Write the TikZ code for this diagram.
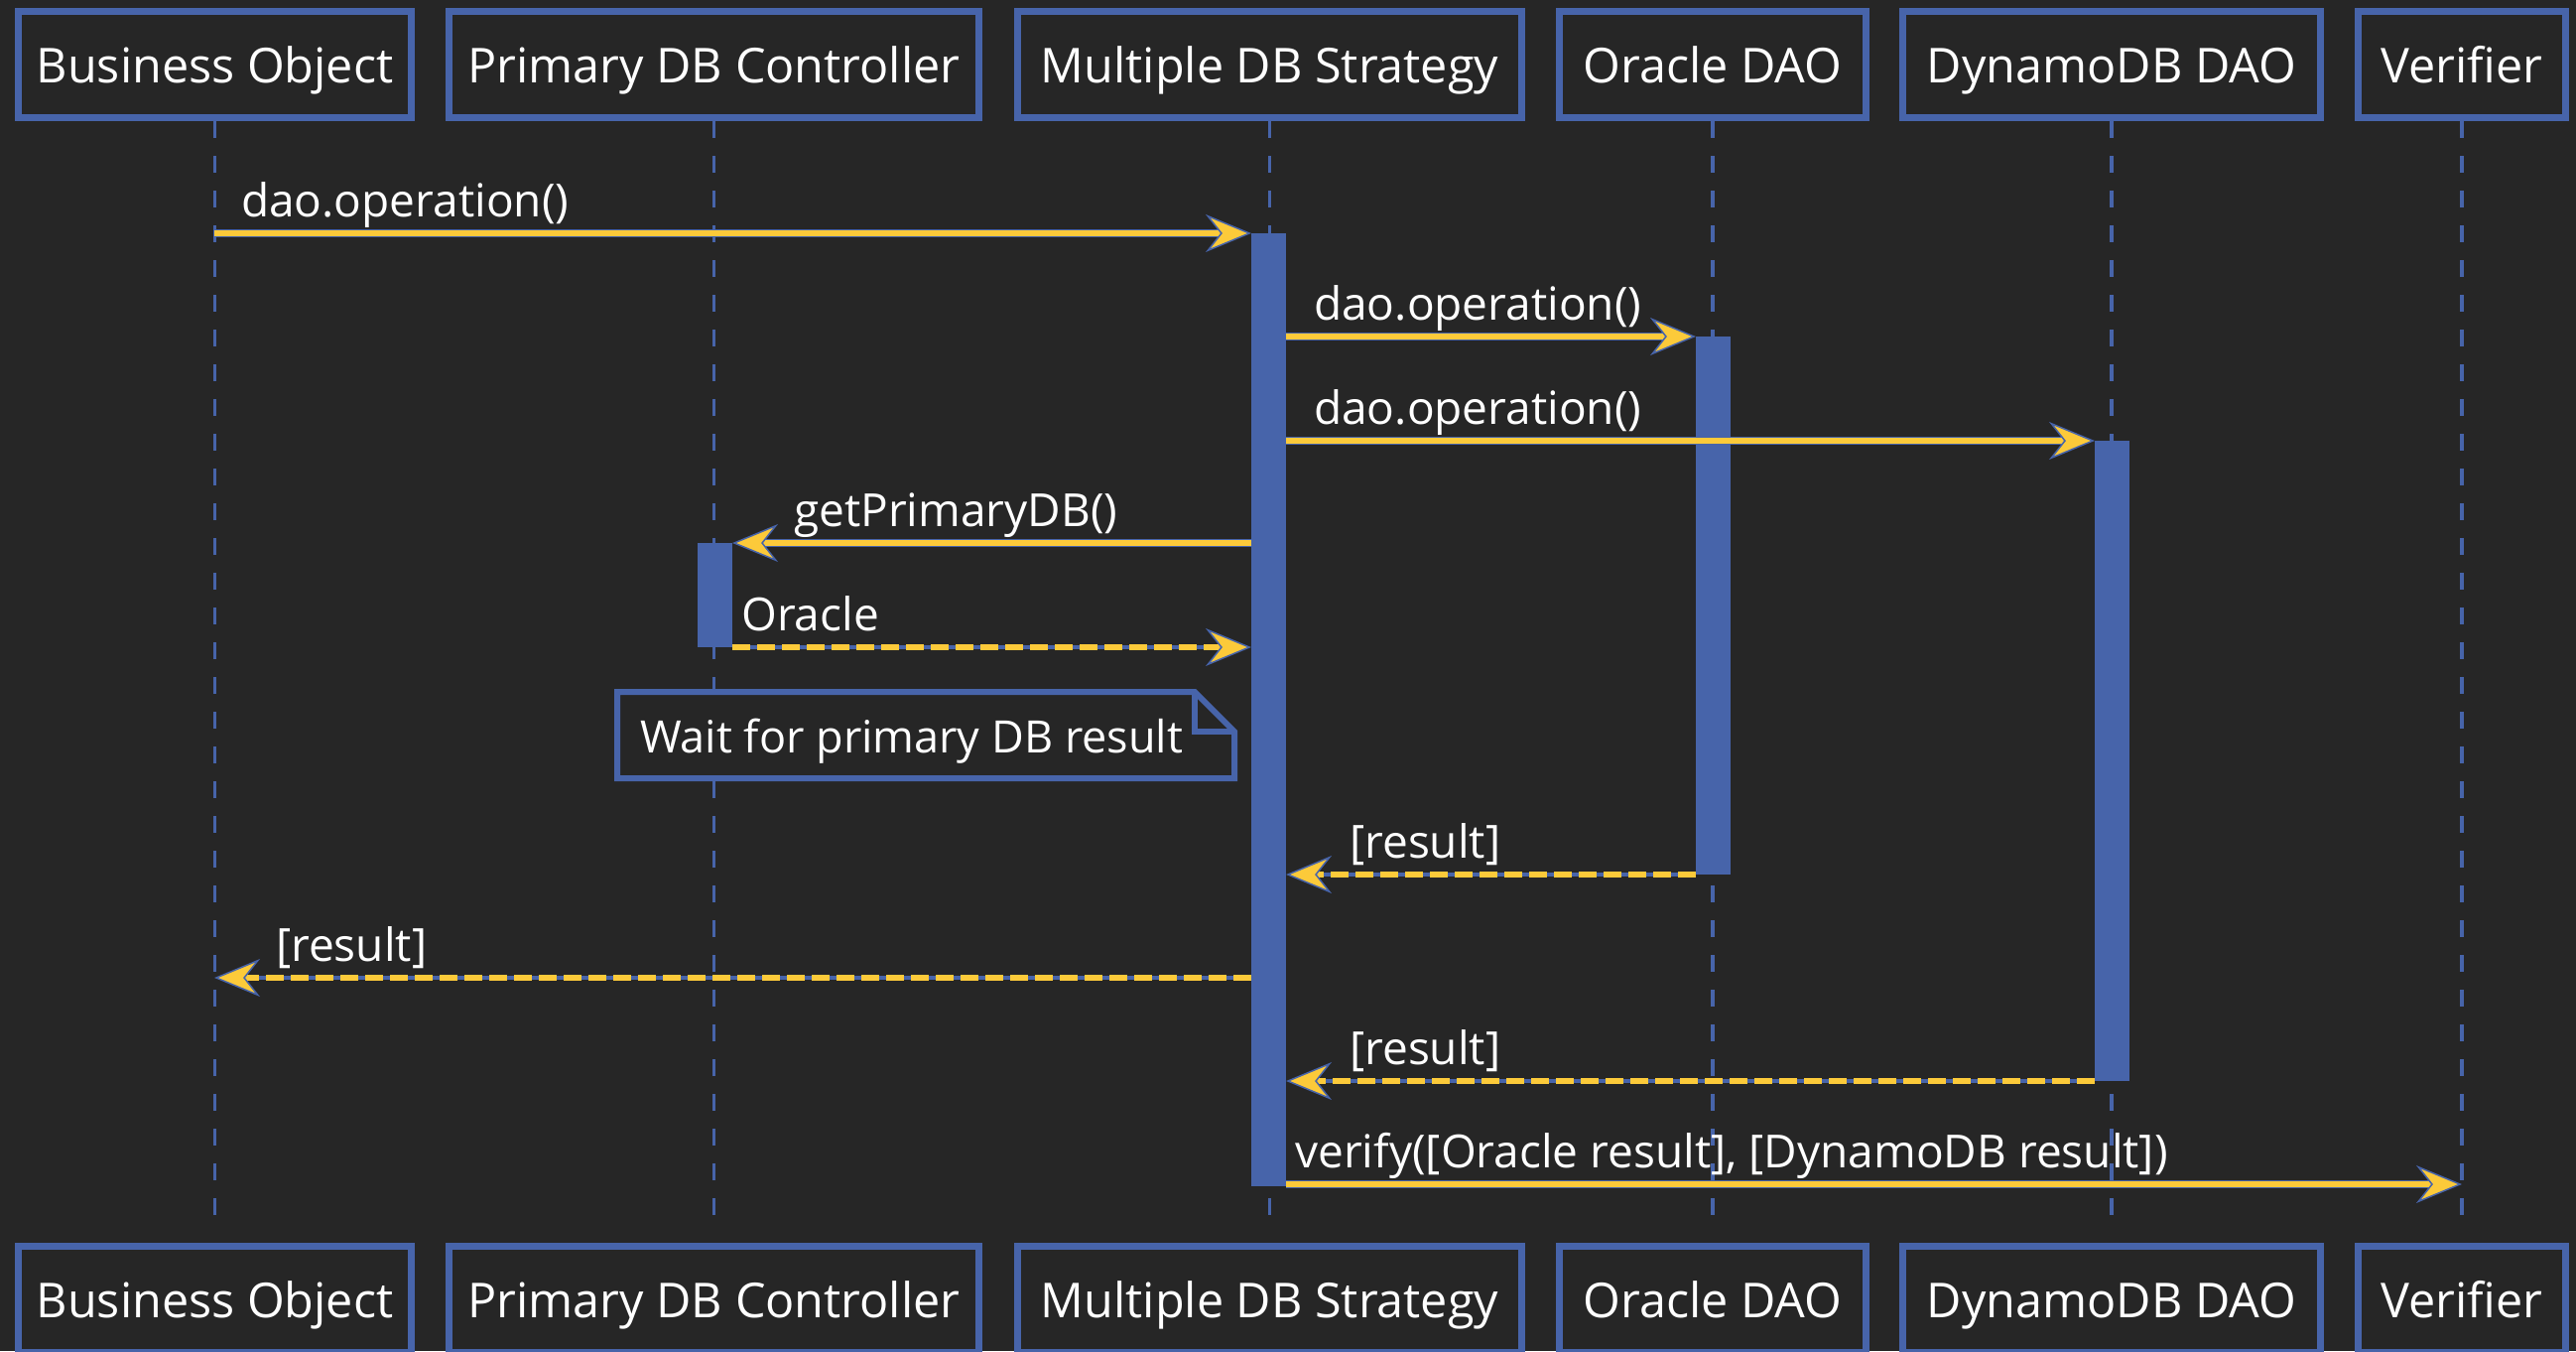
\documentclass[tikz,border=0pt]{standalone}
\usepackage{fontspec}
\setmainfont{Open Sans}
\usetikzlibrary{arrows.meta}
\definecolor{bg}{HTML}{262626}
\definecolor{blu}{HTML}{4764AA}
\definecolor{ylw}{HTML}{FCCA3A}
\begin{document}
\begin{tikzpicture}[x=1pt,y=-1pt,
  font=\fontsize{46}{55}\selectfont,
  actor/.style={draw=blu, line width=7pt, fill=bg, text=white, rectangle,
    minimum height=107pt, inner sep=0pt, text height=37pt, text depth=0pt,
    font=\fontsize{48.5}{58}\selectfont},
  life/.style={draw=blu, line width=3.5pt, dash pattern=on 17pt off 18pt},
  bar/.style={fill=blu, rectangle, inner sep=0pt, outer sep=0pt, minimum width=35pt},
  tip/.style={-{Stealth[length=46pt, width=38pt, inset=15pt, fill=ylw, color=blu, line width=1.5pt]}},
  msg/.style={draw=ylw, line width=6pt, tip,
    preaction={draw=blu, line width=8pt, -, shorten >=30pt}},
  ret/.style={draw=ylw, line width=6pt, tip, dash pattern=on 18pt off 7pt,
    preaction={draw=blu, line width=3.5pt, -, shorten >=30pt}},
  lbl/.style={anchor=base west, inner sep=0pt, text=white},
  notebox/.style={draw=blu, line width=6pt, fill=bg, line join=miter}
]
\fill[bg] (0,0) rectangle (2596,1361);
\clip (0,0) rectangle (2596,1361);

% header boxes
\node[actor, minimum width=396pt] (hBO)  at (216.5,65) {Business Object};
\node[actor, minimum width=534pt] (hPDC) at (719.5,65) {Primary DB Controller};
\node[actor, minimum width=508pt] (hMDS) at (1279.5,65) {Multiple DB Strategy};
\node[actor, minimum width=309pt] (hOra) at (1726,65) {Oracle DAO};
\node[actor, minimum width=421pt] (hDyn) at (2128,65) {DynamoDB DAO};
\node[actor, minimum width=209pt] (hVer) at (2481,65) {Verifier};
% footer boxes
\node[actor, minimum width=396pt] (fBO)  at (216.5,1309) {Business Object};
\node[actor, minimum width=534pt] (fPDC) at (719.5,1309) {Primary DB Controller};
\node[actor, minimum width=508pt] (fMDS) at (1279.5,1309) {Multiple DB Strategy};
\node[actor, minimum width=309pt] (fOra) at (1726,1309) {Oracle DAO};
\node[actor, minimum width=421pt] (fDyn) at (2128,1309) {DynamoDB DAO};
\node[actor, minimum width=209pt] (fVer) at (2481,1309) {Verifier};

% lifelines
\foreach \n in {BO,PDC,MDS,Ora,Dyn,Ver}{
  \draw[life] (h\n.south) -- ([yshift=17pt]f\n.north);
}

% activation bars
\node[bar, minimum height=960pt] (bMDS) at (1278.5,715) {};
\node[bar, minimum height=542pt] (bOra) at (1726.5,610) {};
\node[bar, minimum height=645pt] (bDyn) at (2128.5,766.5) {};
\node[bar, minimum height=105pt] (bPDC) at (720.5,599.5) {};

% note
\draw[notebox] (622,697) -- (1204,697) -- (1244,737) -- (1244,784) -- (622,784) -- cycle;
\draw[notebox, fill=none] (1204,697) -- (1204,737) -- (1244,737);
\node[lbl, font=\fontsize{45}{54}\selectfont] (note) at (645,758) {Wait for primary DB result};

% endpoints on plain lifelines
\coordinate (c1) at (216,235);
\coordinate (c7) at (216,985);
\coordinate (c9) at (2481,1193);

% messages
\draw[msg] (c1) -- (bMDS.west |- c1);
\draw[msg] (bMDS.east |- bOra.north) -- (bOra.north west);
\draw[msg] (bMDS.east |- bDyn.north) -- (bDyn.north west);
\draw[msg] (bMDS.west |- bPDC.north) -- (bPDC.north east);
\draw[ret] (bPDC.south east) -- (bMDS.west |- bPDC.south);
\draw[ret] (bOra.south west) -- (bMDS.east |- bOra.south);
\draw[ret] (bMDS.west |- c7) -- (c7);
\draw[ret] (bDyn.south west) -- (bMDS.east |- bDyn.south);
\draw[msg] (bMDS.east |- c9) -- (c9);

% labels
\node[lbl] (l1) at (243,218) {dao.operation()};
\node[lbl] (l2) at (1324,322) {dao.operation()};
\node[lbl] (l3) at (1324,427) {dao.operation()};
\node[lbl] (l4) at (800,530) {getPrimaryDB()};
\node[lbl] (l5) at (747,635) {Oracle};
\node[lbl] (l6) at (1360,864) {[result]};
\node[lbl] (l7) at (278,968) {[result]};
\node[lbl] (l8) at (1360,1072) {[result]};
\node[lbl] (l9) at (1305,1176) {verify([Oracle result], [DynamoDB result])};
\end{tikzpicture}
\end{document}
